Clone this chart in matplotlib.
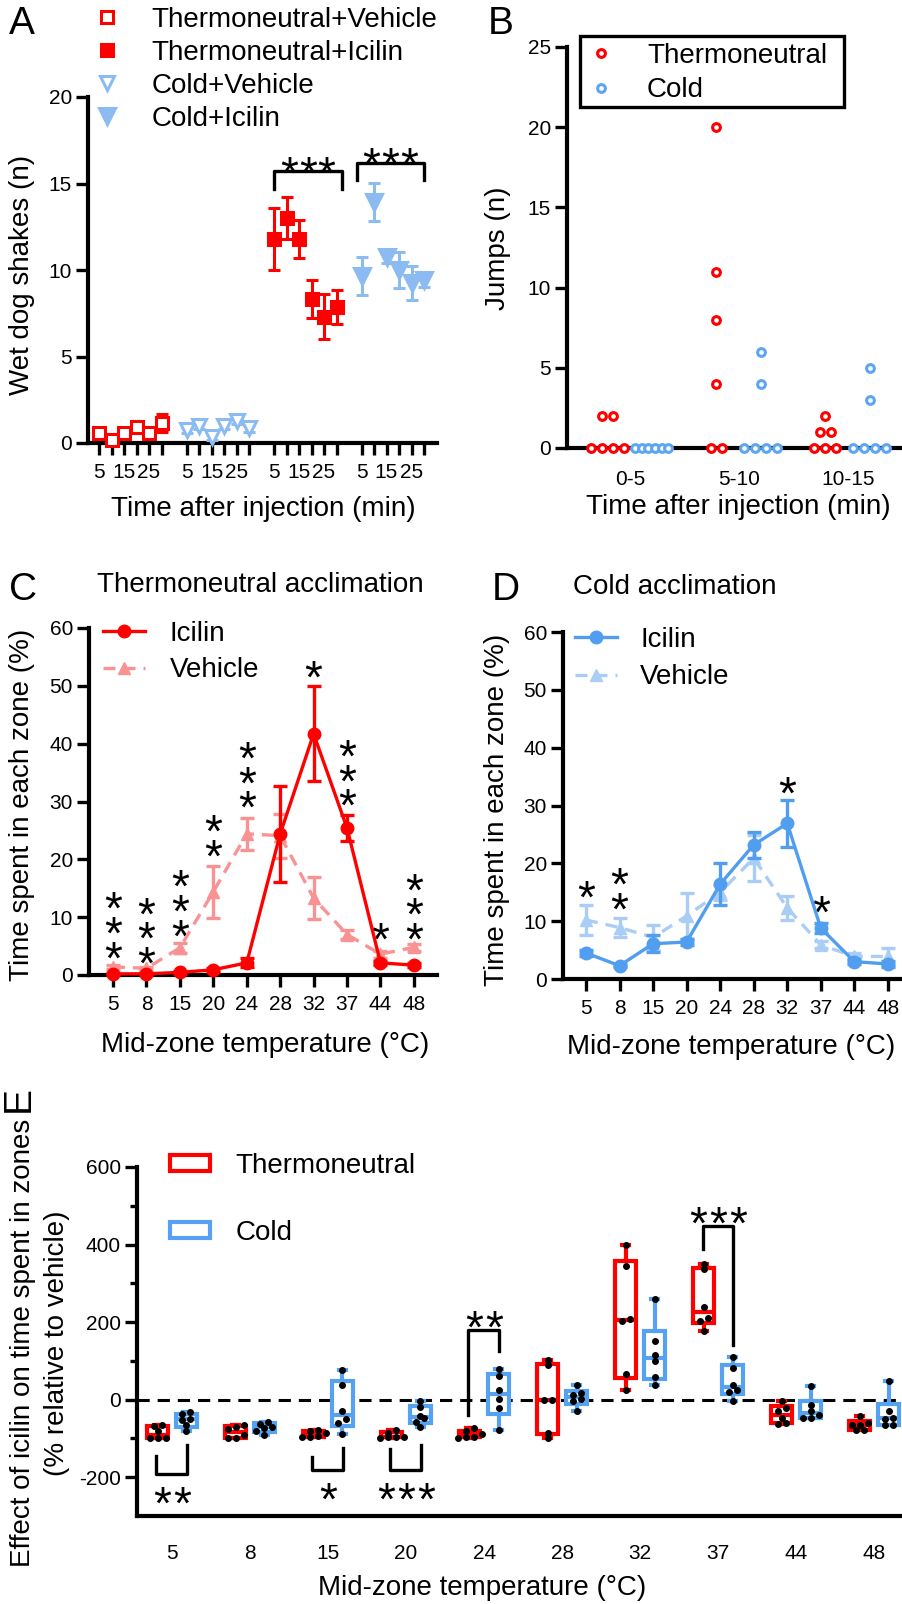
import numpy as np
import matplotlib.pyplot as plt
from matplotlib.lines import Line2D
from matplotlib.patches import Patch, Rectangle

plt.rcParams['font.family'] = ['Liberation Sans', 'DejaVu Sans']
plt.rcParams['axes.unicode_minus'] = False
plt.rcParams['axes.linewidth'] = 3

W, H = 903, 1604
RED = '#FF0000'
A_BLUE = '#8CBBF2'
B_BLUE = '#5EA6F2'
C_PINK = '#F99393'
D_BLUE = '#519DEF'
D_LIGHT = '#A9CDF5'
E_BLUE = '#55A2F2'

# ---------------- data ----------------
# A: wet dog shakes, 6 time bins of 5 min
a_times = ['5', '10', '15', '20', '25', '30']
tv_mean = [0.6, 0.2, 0.6, 0.9, 0.6, 1.15]
tv_err = [0.2, 0.15, 0.2, 0.25, 0.2, 0.5]
cv_mean = [0.75, 1.0, 0.35, 1.0, 1.25, 0.85]
cv_err = [0.2, 0.2, 0.2, 0.2, 0.15, 0.2]
ti_mean = [11.8, 13.0, 11.8, 8.3, 7.3, 7.85]
ti_err = [1.8, 1.2, 1.1, 1.1, 1.3, 1.0]
ci_mean = [9.65, 13.95, 10.75, 10.0, 9.25, 9.4]
ci_err = [1.1, 1.1, 0.35, 1.05, 1.0, 0.4]

# B: jumps per mouse
b_bins = ['0-5', '5-10', '10-15']
b_thermo = [[0, 2, 0, 2, 0, 0], [20, 11, 8, 4, 0, 0], [2, 1, 1, 0, 0, 0]]
b_cold = [[0, 0, 0, 0, 0, 0], [6, 4, 0, 0, 0, 0], [5, 3, 0, 0, 0, 0]]

# C / D: time in each zone (%)
zones = ['5', '8', '15', '20', '24', '28', '32', '37', '44', '48']
c_ici = [0.2, 0.2, 0.45, 0.9, 2.1, 24.4, 41.7, 25.4, 2.1, 1.7]
c_ici_err = [0.2, 0.2, 0.2, 0.3, 0.8, 8.3, 8.2, 2.2, 0.4, 0.3]
c_veh = [1.4, 1.15, 4.7, 14.4, 24.4, 24.1, 13.3, 7.0, 3.6, 4.8]
c_veh_err = [0.4, 0.3, 0.9, 4.5, 2.8, 3.8, 3.7, 0.8, 0.6, 0.6]
c_stars = [3, 3, 3, 2, 3, 0, 1, 3, 1, 3]
c_star_y = [4.9, 4.0, 8.7, 22.5, 30.9, 0, 53.4, 31.2, 8.1, 8.1]

d_ici = [4.5, 2.3, 6.1, 6.4, 16.4, 23.2, 26.9, 8.8, 3.0, 2.6]
d_ici_err = [0.5, 0.3, 1.5, 0.6, 3.6, 2.2, 4.1, 0.8, 0.4, 0.5]
d_veh = [10.2, 8.9, 7.2, 10.9, 15.0, 20.9, 12.3, 5.9, 3.9, 3.9]
d_veh_err = [2.6, 1.7, 2.1, 4.0, 1.3, 4.0, 2.1, 0.6, 0.6, 1.5]
d_stars = [1, 2, 0, 0, 0, 0, 1, 1, 0, 0]
d_star_y = [16.0, 14.0, 0, 0, 0, 0, 34.1, 13.5, 0, 0]

# E: effect of icilin (% relative to vehicle), 6 mice per box
e_thermo = [[-66, -69, -82, -99, -99, -99], [-66, -70, -75, -90, -99, -100],
            [-78, -82, -86, -94, -95, -97], [-78, -85, -95, -96, -97, -98],
            [-73, -82, -88, -96, -97, -98], [103, 89, 0, 0, -86, -99],
            [398, 345, 209, 203, 66, 26], [351, 336, 239, 211, 203, 177],
            [-4, -22, -30, -47, -60, -62], [-41, -60, -65, -65, -78, -78]]
e_cold = [[-33, -38, -49, -52, -66, -82], [-58, -62, -70, -72, -80, -92],
          [76, 39, -28, -49, -60, -88], [-3, -20, -42, -47, -58, -70],
          [80, 60, 24, 3, -22, -78], [39, 16, 12, 2, -4, -30],
          [259, 150, 116, 99, 59, 37], [110, 82, 38, 25, 20, -4],
          [34, -15, -30, -39, -47, -47], [49, -30, -47, -49, -65, -65]]
# significance brackets: zone index, stars, left end, right end, bar level
e_sig_zone = [0, 2, 3, 4, 7]
e_sig_n = [2, 1, 3, 2, 3]
e_sig_left = [-145, -149, -126, -39, 388]
e_sig_right = [-117, -124, -117, 125, 142]
e_sig_bar = [-191, -182, -182, 179, 448]

fig = plt.figure(figsize=(W / 100, H / 100), dpi=100)


def rect(l, t, r, b):
    return [l / W, 1 - b / H, (r - l) / W, (b - t) / H]


def ftext(x, y, s, **kw):
    fig.text(x / W, 1 - y / H, s, **kw)


def style(ax, tl=8.5):
    for s in ['top', 'right']:
        ax.spines[s].set_visible(False)
    ax.tick_params(direction='out', length=tl, width=2.4, labelsize=15, pad=3)


STAR_FS = 33
STAR_LS = 0.43


def stars(ax, x, y, n, vertical=False, pitch=14.5):
    # y is the centre of the lowest star (vertical) or of the row (horizontal)
    if n == 0:
        return
    if vertical:
        ax.annotate('\n'.join('*' * n), (x, y), xytext=(0, -0.58 * STAR_FS),
                    textcoords='offset points', ha='center', va='baseline',
                    fontsize=STAR_FS, linespacing=STAR_LS, multialignment='center',
                    annotation_clip=False)
        return
    for k in range(n):
        ax.annotate('*', (x, y), xytext=((k - (n - 1) / 2) * pitch, -0.58 * STAR_FS),
                    textcoords='offset points', ha='center', va='baseline',
                    fontsize=STAR_FS, annotation_clip=False)


def swarm(ax, x0, vals, dot_px, tol_px, max_px=None):
    vals = np.asarray(vals, float)
    p0 = ax.transData.transform((0, 0))
    p1 = ax.transData.transform((1, 1))
    ppx, ppy = p1[0] - p0[0], p1[1] - p0[1]
    xs = np.full(len(vals), float(x0))
    rows = []
    for i in np.argsort(vals):
        if rows and abs(vals[i] - vals[rows[-1][0]]) * ppy < tol_px:
            rows[-1].append(i)
        else:
            rows.append([i])
    for row in rows:
        k = len(row)
        step = dot_px
        if max_px and k > 1 and (k - 1) * step > max_px:
            step = max_px / (k - 1)
        for j, i in enumerate(row):
            xs[i] = x0 + (j - (k - 1) / 2) * step / ppx
    return xs


# ---------------- A ----------------
axA = fig.add_axes(rect(88, 97, 437, 443))
style(axA)
axA.set_xlim(-0.88, 27.04)
axA.set_ylim(0, 20)
series = [('Thermoneutral+Vehicle', tv_mean, tv_err, 0, 's', 'white', RED, 8.5),
          ('Cold+Vehicle', cv_mean, cv_err, 1, 'v', 'white', A_BLUE, 9.5),
          ('Thermoneutral+Icilin', ti_mean, ti_err, 2, 's', RED, RED, 8),
          ('Cold+Icilin', ci_mean, ci_err, 3, 'v', A_BLUE, A_BLUE, 11)]
handles = {}
for lab, m, e, slot, mk, fc, c, ms in series:
    x = np.arange(len(a_times)) + 7 * slot
    axA.errorbar(x, m, yerr=e, fmt=mk, mfc=fc, mec=c, color=c, ms=ms, mew=2.2,
                 elinewidth=2.2, capsize=4.3, capthick=2.2, clip_on=False, zorder=4)
    handles[lab] = Line2D([], [], ls='none', marker=mk, mfc=fc, mec=c, ms=ms, mew=2.2)
xt = np.concatenate([np.arange(6) + 7 * g for g in range(4)])
axA.set_xticks(xt)
axA.set_xticklabels([t if i % 2 == 0 else '' for i, t in enumerate(a_times)] * 4)
axA.tick_params(axis='x', pad=6)
axA.set_yticks([0, 5, 10, 15, 20])
for (xl, xr), top, leg in zip([(14, 19.4), (20.6, 26)], [15.7, 16.2], [1.0, 1.0]):
    axA.plot([xl, xl, xr, xr], [top - leg, top, top, top - leg], color='k', lw=2.4)
    stars(axA, (xl + xr) / 2, top + 0.55, 3, pitch=13.5)
order = ['Thermoneutral+Vehicle', 'Thermoneutral+Icilin', 'Cold+Vehicle', 'Cold+Icilin']
axA.legend([handles[k] for k in order], order, loc='upper left', frameon=False,
           bbox_to_anchor=(93 / W, 1 - 7 / H), bbox_transform=fig.transFigure,
           fontsize=20, handlelength=1.0, handletextpad=1.1, labelspacing=0.25,
           borderpad=0, borderaxespad=0)
ftext(22, 275, 'Wet dog shakes (n)', rotation=90, ha='center', va='center', fontsize=20)
ftext(263, 509, 'Time after injection (min)', ha='center', va='center', fontsize=20)
ftext(22, 24, 'A', ha='center', va='center', fontsize=28)

# ---------------- B ----------------
axB = fig.add_axes(rect(567, 47, 903, 448))
style(axB)
axB.set_xlim(-0.578, 2.505)
axB.set_ylim(0, 25)
axB.set_yticks(range(0, 26, 5))
axB.set_xticks(range(3))
axB.set_xticklabels(b_bins)
axB.tick_params(axis='x', length=0, pad=16)
for i in range(3):
    for vals, off, c in [(b_thermo[i], -0.21, RED), (b_cold[i], 0.2, B_BLUE)]:
        xs = swarm(axB, i + off, vals, 11, 6, 33)
        axB.plot(xs, vals, ls='none', marker='o', ms=5.6, mfc='white', mec=c, mew=2.2,
                 clip_on=False, zorder=5)
hB = [Line2D([], [], ls='none', marker='o', ms=5.6, mfc='white', mec=c, mew=2.2)
      for c in (RED, B_BLUE)]
axB.legend(hB, ['Thermoneutral', 'Cold'], loc='upper left', frameon=False,
           bbox_to_anchor=(590 / W, 1 - 43 / H), bbox_transform=fig.transFigure,
           fontsize=20, handlelength=0.8, handletextpad=1.25, labelspacing=0.3,
           borderpad=0, borderaxespad=0)
fig.patches.append(Rectangle((580 / W, 1 - 107 / H), 264 / W, 71 / H, fill=False,
                             lw=2.4, ec='k', transform=fig.transFigure))
ftext(498, 248, 'Jumps (n)', rotation=90, ha='center', va='center', fontsize=20)
ftext(738, 507, 'Time after injection (min)', ha='center', va='center', fontsize=20)
ftext(501, 24, 'B', ha='center', va='center', fontsize=28)


# ---------------- C / D ----------------
def zone_panel(box, xlim, ici, ici_err, veh, veh_err, c_ici, c_veh, n_st, y_st):
    ax = fig.add_axes(rect(*box))
    style(ax)
    ax.set_xlim(*xlim)
    ax.set_ylim(0, 60)
    ax.set_yticks(range(0, 61, 10))
    x = np.arange(len(zones))
    ax.set_xticks(x)
    ax.set_xticklabels(zones)
    ax.tick_params(axis='x', pad=6)
    ax.errorbar(x, veh, yerr=veh_err, fmt='^', ls=(0, (3.6, 2.4)), color=c_veh, lw=2.4,
                ms=8.5, elinewidth=2.4, capsize=5, capthick=2.4, zorder=3, clip_on=False)
    ax.errorbar(x, ici, yerr=ici_err, fmt='o-', color=c_ici, lw=2.4, ms=9,
                elinewidth=2.4, capsize=5, capthick=2.4, zorder=4, clip_on=False)
    for i, (n, y) in enumerate(zip(n_st, y_st)):
        stars(ax, i, y, n, vertical=True)
    h = [Line2D([], [], color=c_ici, lw=2.4, marker='o', ms=9),
         Line2D([], [], color=c_veh, lw=2.4, ls=(0, (3.6, 2.4)), marker='^', ms=8.5)]
    return ax, h


axC, hC = zone_panel((89, 628, 437, 975), (-0.718, 9.69), c_ici, c_ici_err, c_veh, c_veh_err,
                     RED, C_PINK, c_stars, c_star_y)
axC.legend(hC, ['Icilin', 'Vehicle'], loc='upper left', frameon=False,
           bbox_to_anchor=(103 / W, 1 - 621 / H), bbox_transform=fig.transFigure,
           fontsize=20, handlelength=1.5, handletextpad=0.9, labelspacing=0.37,
           borderpad=0, borderaxespad=0)
ftext(22, 805, 'Time spent in each zone (%)', rotation=90, ha='center', va='center', fontsize=20)
ftext(265, 1045, 'Mid-zone temperature (°C)', ha='center', va='center', fontsize=20)
ftext(97, 585, 'Thermoneutral acclimation', ha='left', va='center', fontsize=20)
ftext(23, 590, 'C', ha='center', va='center', fontsize=28)

axD, hD = zone_panel((563, 632, 903, 979), (-0.685, 9.45), d_ici, d_ici_err, d_veh, d_veh_err,
                     D_BLUE, D_LIGHT, d_stars, d_star_y)
axD.legend(hD, ['Icilin', 'Vehicle'], loc='upper left', frameon=False,
           bbox_to_anchor=(575 / W, 1 - 627 / H), bbox_transform=fig.transFigure,
           fontsize=20, handlelength=1.5, handletextpad=0.85, labelspacing=0.41,
           borderpad=0, borderaxespad=0)
ftext(497, 810, 'Time spent in each zone (%)', rotation=90, ha='center', va='center', fontsize=20)
ftext(731, 1047, 'Mid-zone temperature (°C)', ha='center', va='center', fontsize=20)
ftext(573, 587, 'Cold acclimation', ha='left', va='center', fontsize=20)
ftext(506, 590, 'D', ha='center', va='center', fontsize=28)

# ---------------- E ----------------
axE = fig.add_axes(rect(137, 1167, 903, 1516))
style(axE)
axE.set_xlim(-0.449, 9.37)
axE.set_ylim(-300, 600)
axE.set_yticks([-200, 0, 200, 400, 600])
axE.set_yticks([-100, 100, 300, 500], minor=True)
axE.tick_params(axis='y', which='minor', length=5, width=2.4)
axE.set_xticks(range(len(zones)))
axE.set_xticklabels(zones)
axE.tick_params(axis='x', length=0, pad=20)
axE.axhline(0, color='k', lw=2.2, ls=(0, (4, 2.6)), zorder=1)


def box_stats(v):
    q1, med, q3 = np.percentile(v, [25, 50, 75], method='weibull')
    return dict(med=med, q1=q1, q3=q3, whislo=min(v), whishi=max(v), fliers=[])


for data, off, c in [(e_thermo, -0.185, RED), (e_cold, 0.185, E_BLUE)]:
    pos = np.arange(len(zones)) + off
    axE.bxp([box_stats(v) for v in data], positions=pos, widths=0.27, patch_artist=True,
            showfliers=False, manage_ticks=False, capwidths=0.09,
            boxprops=dict(facecolor='white', edgecolor=c, lw=3),
            whiskerprops=dict(color=c, lw=3), capprops=dict(color=c, lw=3),
            medianprops=dict(color=c, lw=3), zorder=2)
    for p, v in zip(pos, data):
        xs = swarm(axE, p, v, 8, 4.5, 30)
        axE.plot(xs, v, ls='none', marker='o', ms=4, color='k', zorder=4)

for z, n, yl, yr, yb in zip(e_sig_zone, e_sig_n, e_sig_left, e_sig_right, e_sig_bar):
    xl, xr = z - 0.2, z + 0.19
    axE.plot([xl, xl, xr, xr], [yl, yb, yb, yr], color='k', lw=2.4, zorder=3)
    ys = yb - 47 if yb < 0 else yb + 36
    stars(axE, z, ys, n)

hE = [Patch(facecolor='white', edgecolor=c, lw=3) for c in (RED, E_BLUE)]
axE.legend(hE, ['Thermoneutral', 'Cold'], loc='upper left', frameon=False,
           bbox_to_anchor=(170 / W, 1 - 1153 / H), bbox_transform=fig.transFigure,
           fontsize=20, handlelength=1.45, handleheight=0.5, handletextpad=0.9,
           labelspacing=1.48, borderpad=0, borderaxespad=0)
ftext(40, 1343, 'Effect of icilin on time spent in zones\n(% relative to vehicle)', rotation=90,
      ha='center', va='center', fontsize=20, linespacing=1.35, multialignment='center')
ftext(482, 1588, 'Mid-zone temperature (°C)', ha='center', va='center', fontsize=20)
ftext(19, 1099, 'E', rotation=90, ha='center', va='center', fontsize=28)

fig.savefig('out.png', dpi=100)
